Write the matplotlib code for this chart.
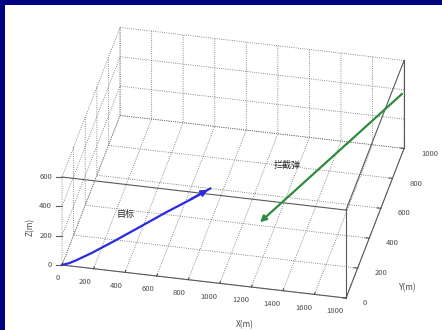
import matplotlib
matplotlib.use('Agg')
import matplotlib.pyplot as plt
import numpy as np
from matplotlib.patches import FancyArrowPatch, Rectangle
from mpl_toolkits.mplot3d import proj3d

plt.rcParams['font.family'] = ['Noto Sans CJK SC', 'DejaVu Sans']

# ---- data ----
x_ticks = [0, 200, 400, 600, 800, 1000, 1200, 1400, 1600, 1800]
y_ticks = [0, 200, 400, 600, 800, 1000]
z_ticks = [0, 200, 400, 600]

blue_x = [0, 42, 84, 169, 295, 422, 590, 717, 843]
blue_y = [0, 13, 26, 52, 92, 131, 183, 223, 262]
blue_z = [0, 5, 18, 50, 105, 165, 245, 300, 360]

green_x = [1800, 1161]
green_y = [1000, 220]
green_z = [385, 200]

label_blue = '目标'
label_green = '拦截弹'
x_label = 'X(m)'
y_label = 'Y(m)'
z_label = 'Z(m)'

W, H = 442, 330


class Arrow3D(FancyArrowPatch):
    def __init__(self, xs, ys, zs, *args, **kwargs):
        super().__init__((0, 0), (0, 0), *args, **kwargs)
        self._verts3d = xs, ys, zs

    def do_3d_projection(self, renderer=None):
        xs3d, ys3d, zs3d = self._verts3d
        xs, ys, zs = proj3d.proj_transform(np.array(xs3d), np.array(ys3d),
                                           np.array(zs3d), self.axes.M)
        self.set_positions((xs[0], ys[0]), (xs[1], ys[1]))
        return np.min(zs)


fig = plt.figure(figsize=(W / 100, H / 100), dpi=100)
fig.patch.set_facecolor('#000080')
bg = Rectangle((5 / W, 0), 1 - 5 / W, 1 - 5 / H, transform=fig.transFigure,
               facecolor='white', edgecolor='none', zorder=-10)
fig.patches.append(bg)

ax = fig.add_axes([0.05, 0.05, 0.9, 0.9], projection='3d')
ax.set_proj_type('ortho')
ax.view_init(elev=33.2, azim=-78)
ax.set_box_aspect((290, 279, 105))
ax.patch.set_alpha(0)

xmin, xmax = x_ticks[0], x_ticks[-1]
ymin, ymax = y_ticks[0], y_ticks[-1]
zmin, zmax = z_ticks[0], z_ticks[-1]
ax.set_xlim(xmin, xmax)
ax.set_ylim(ymin, ymax)
ax.set_zlim(zmin, zmax)
ax.set_xticks(x_ticks)
ax.set_yticks(y_ticks)
ax.set_zticks(z_ticks)
ax.set_xticklabels([str(v) for v in x_ticks])
ax.set_yticklabels([str(v) for v in y_ticks])
ax.set_zticklabels([str(v) for v in z_ticks])

edge_c = '0.35'
lab_c = '0.3'
for axis in (ax.xaxis, ax.yaxis, ax.zaxis):
    axis.set_pane_color((1, 1, 1, 0))
    axis.pane.set_edgecolor(edge_c)
    axis.pane.set_linewidth(0.8)
    axis.line.set_color(edge_c)
    axis.line.set_linewidth(0.8)
    axis._axinfo['grid'].update(color='0.4', linewidth=0.6, linestyle=':')
    axis._axinfo['tick']['inward_factor'] = 0.0
    axis._axinfo['tick']['outward_factor'] = 0.15
    axis._axinfo['tick']['color'] = edge_c

ax.tick_params(axis='x', labelsize=5.5, colors=lab_c, pad=-2)
ax.tick_params(axis='y', labelsize=5.5, colors=lab_c, pad=1)
# z labels are placed on the front-left edge below, hide the default ones
ax.tick_params(axis='z', labelsize=5.5, colors=(0, 0, 0, 0))
ax.zaxis._axinfo['tick']['outward_factor'] = 0.0
plt.setp(ax.get_xticklabels(), ha='right')
plt.setp(ax.get_yticklabels(), ha='left', va='baseline')
ax.set_xlabel('')
ax.set_ylabel('')
ax.set_zlabel('')

# front box edges (box on)
ax.plot([xmax, xmax], [ymin, ymin], [zmin, zmax], color=edge_c, lw=0.8)
ax.plot([xmin, xmax], [ymin, ymin], [zmax, zmax], color=edge_c, lw=0.8)
ax.plot([xmax, xmax], [ymin, ymax], [zmax, zmax], color=edge_c, lw=0.8)

# trajectories
blue_c = '#2a2ae0'
green_c = '#2e8b3e'
ax.plot(blue_x, blue_y, blue_z, color=blue_c, lw=1.6)
ax.add_artist(Arrow3D(blue_x[-2:], blue_y[-2:], blue_z[-2:],
                      arrowstyle='-|>', mutation_scale=9, color=blue_c, lw=1.6))
ax.add_artist(Arrow3D(green_x, green_y, green_z,
                      arrowstyle='-|>', mutation_scale=9, color=green_c, lw=1.6))

# calibrate axes position so the box lands where the reference has it
fig.canvas.draw()


def disp(x, y, z):
    xs, ys, _ = proj3d.proj_transform(np.array([x]), np.array([y]),
                                      np.array([z]), ax.get_proj())
    return ax.transData.transform((xs[0], ys[0]))


p0 = disp(xmin, ymin, zmin)
p1 = disp(xmax, ymin, zmin)
t0 = np.array([62.0, H - 265.0])
t1 = np.array([346.0, H - 298.0])
k = np.linalg.norm(t1 - t0) / np.linalg.norm(p1 - p0)
pos = ax.get_position()
O = np.array([pos.x0 * W, pos.y0 * H])
S = pos.width * W
newO = t0 - k * (p0 - O)
newS = k * S
ax.set_position([newO[0] / W, newO[1] / H, newS / W, newS / H])

# z tick labels and small ticks on the front-left vertical edge
for zv in z_ticks:
    px, py = disp(xmin, ymin, zv)
    fig.text((px - 10) / W, py / H, str(zv), ha='right', va='center',
             fontsize=5.5, color=lab_c)
    fig.add_artist(plt.Line2D([(px - 6) / W, px / W], [py / H, py / H],
                              transform=fig.transFigure, color=edge_c, lw=0.8))

# axis titles
fig.text(245 / W, 1 - 325 / H, x_label, fontsize=6, color=lab_c,
         ha='center', va='center')
fig.text(408 / W, 1 - 288 / H, y_label, fontsize=6, color=lab_c,
         ha='center', va='center')
fig.text(30 / W, 1 - 227 / H, z_label, fontsize=6, color=lab_c,
         ha='center', va='center', rotation=90)

fig.text(126 / W, 1 - 214 / H, label_blue, fontsize=6.5, color='0.15',
         ha='center', va='center')
fig.text(287 / W, 1 - 165 / H, label_green, fontsize=6.5, color='0.15',
         ha='center', va='center')

fig.savefig('out.png', dpi=100, facecolor=fig.get_facecolor())
